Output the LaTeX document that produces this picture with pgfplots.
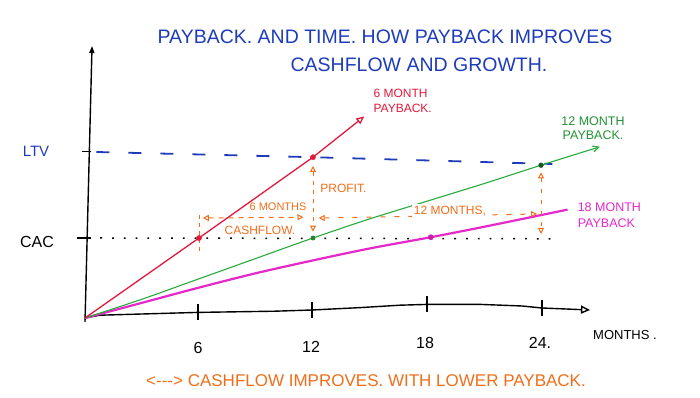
\documentclass[border=0pt]{standalone}
\usepackage{pgfplots}
\pgfplotsset{compat=1.18}
\usepackage{fontspec}
\setmainfont{Liberation Sans}
\newfontfamily\hand{Liberation Sans}
\usetikzlibrary{arrows.meta}
\definecolor{pred}{RGB}{225,25,60}
\definecolor{pgreen}{RGB}{40,170,60}
\definecolor{dgreen}{RGB}{20,90,30}
\definecolor{pmag}{RGB}{230,40,200}
\definecolor{porange}{RGB}{240,110,25}
\definecolor{pblue}{RGB}{30,60,185}
\newcommand{\fs}[1]{\hand\fontsize{#1}{#1}\selectfont}
\begin{document}
\begin{tikzpicture}
\begin{axis}[
  width=700pt, height=398pt, scale only axis,
  xmin=-4.4737, xmax=32.3684, ymin=-1.0, ymax=3.975,
  axis lines=none, clip=false,
]
% bounding frame (invisible)
\addplot[draw=none] coordinates {(-4.4737,-1.0) (32.3684,3.975)};

% hand-drawn axes
\addplot[black, line width=1.4pt, -{Triangle[length=7pt,width=5pt]}] coordinates {(0,-0.05) (0.37,3.4)};
\addplot[black, line width=1.4pt, -{Triangle[open,length=9pt,width=8pt]}] coordinates {
  (0,0) (0.79,0.035) (5.95,0.07) (10,0.085) (11.95,0.1) (14.5,0.13) (16.58,0.16) (18,0.17) (20.8,0.17) (23,0.15) (24.05,0.125) (26.58,0.1)};
% x ticks
\addplot[black, line width=1.3pt] coordinates {(5.95,-0.03) (5.95,0.17)};
\addplot[black, line width=1.3pt] coordinates {(11.95,0.0) (11.95,0.2)};
\addplot[black, line width=1.3pt] coordinates {(18,0.07) (18,0.27)};
\addplot[black, line width=1.3pt] coordinates {(24.05,0.025) (24.05,0.225)};
% y ticks
\addplot[black, line width=1.3pt] coordinates {(-0.42,1.0) (0.3,1.0)};
\addplot[black, line width=1.3pt] coordinates {(-0.16,2.08) (0.3,2.08)};

% LTV and CAC reference lines
\addplot[pblue, line width=1.8pt, dash pattern=on 13pt off 19pt] coordinates {(0.6,2.075) (12,2.01) (24.6,1.925)};
\addplot[black, line width=1.5pt, dash pattern=on 1.8pt off 10pt] coordinates {(0.8,1.0) (24.7,0.99)};

% payback curves
\addplot[pmag, line width=2.2pt, smooth] coordinates {
  (0,0) (3,0.19) (6,0.38) (9,0.56) (12,0.72) (15,0.87) (18.2,1.01) (21,1.14) (25.4,1.355)};
\addplot[pgreen, line width=1.1pt, smooth, -{Straight Barb[length=6pt,width=6pt]}] coordinates {
  (0,0) (3,0.235) (6,0.49) (9,0.745) (12,1.0) (15,1.24) (18,1.46) (21,1.68) (24,1.91) (27.1,2.14)};
\addplot[pred, line width=1.3pt, -{Triangle[open,length=8pt,width=7pt]}] coordinates {
  (0,0) (6,1.0) (12,2.01) (14.7,2.52)};

% points
\addplot[only marks, mark=*, mark size=2.6pt, pred] coordinates {(6,1.0) (12,2.01)};
\addplot[only marks, mark=*, mark size=2.2pt, pgreen!80!black] coordinates {(12,1.0)};
\addplot[only marks, mark=*, mark size=2.4pt, dgreen] coordinates {(24,1.91)};
\addplot[only marks, mark=*, mark size=2.6pt, pmag!85!black] coordinates {(18.2,1.01)};

% orange annotations
\addplot[porange, line width=1.0pt, dash pattern=on 4pt off 4pt] coordinates {(6,1.29) (6,0.825)};
\addplot[porange, line width=1.0pt, dash pattern=on 5pt off 5pt, {Triangle[open,length=6pt,width=6pt]}-{Triangle[open,length=6pt,width=6pt]}] coordinates {(6.2,1.25) (11.5,1.26)};
\addplot[porange, line width=1.0pt, dash pattern=on 4pt off 5pt, {Triangle[open,length=6pt,width=6pt]}-{Triangle[open,length=6pt,width=6pt]}] coordinates {(12,1.9) (12,1.08)};
\addplot[porange, line width=1.0pt, dash pattern=on 5pt off 9pt, {Triangle[open,length=6pt,width=6pt]}-{Triangle[open,length=6pt,width=6pt]}] coordinates {(12.3,1.25) (23.8,1.3)};
\addplot[porange, line width=1.0pt, dash pattern=on 4pt off 7pt, {Triangle[open,length=6pt,width=6pt]}-{Triangle[open,length=6pt,width=6pt]}] coordinates {(24,1.82) (24,1.05)};

% annotation text
\node[porange, font=\fs{11}] at (axis cs:10.16,1.39) {6 MONTHS};
\node[porange, font=\fs{12}] at (axis cs:9.21,1.1) {CASHFLOW.};
\node[porange, font=\fs{12}, anchor=west] at (axis cs:12.2,1.625) {PROFIT.};
\node[porange, font=\fs{12}, fill=white, inner sep=1.5pt] at (axis cs:19.21,1.34) {12 MONTHS,};

\node[pred, font=\fs{12}, anchor=north west, align=left] at (axis cs:15.0,2.9) {6 MONTH\\[3pt]PAYBACK.};
\node[pgreen!85!black, font=\fs{12.5}, align=center] at (axis cs:26.74,2.375) {12 MONTH\\[1pt]PAYBACK.};
\node[pmag, font=\fs{12.5}, anchor=north west, align=left] at (axis cs:25.75,1.48) {18 MONTH\\[3pt]PAYBACK};

% axis labels
\node[pblue, font=\fs{15}] at (axis cs:-2.58,2.0875) {LTV};
\node[black, font=\fs{16}] at (axis cs:-2.53,0.95) {CAC};
\node[font=\fs{16}] at (axis cs:5.95,-0.375) {6};
\node[font=\fs{16}] at (axis cs:11.9,-0.3625) {12};
\node[font=\fs{16}] at (axis cs:17.9,-0.3125) {18};
\node[font=\fs{16}] at (axis cs:23.95,-0.3125) {24.};
\node[font=\fs{13}] at (axis cs:28.42,-0.2125) {MONTHS .};

% titles
\node[pblue, font=\fs{19.5}] at (axis cs:15.79,3.5125) {PAYBACK. AND TIME. HOW PAYBACK IMPROVES};
\node[pblue, font=\fs{19.5}] at (axis cs:17.58,3.1625) {CASHFLOW AND GROWTH.};
\node[porange, font=\fs{17}] at (axis cs:14.79,-0.7875) {<\kern0pt-\kern0pt-\kern0pt-> CASHFLOW IMPROVES. WITH LOWER PAYBACK.};
\end{axis}
\end{tikzpicture}
\end{document}
